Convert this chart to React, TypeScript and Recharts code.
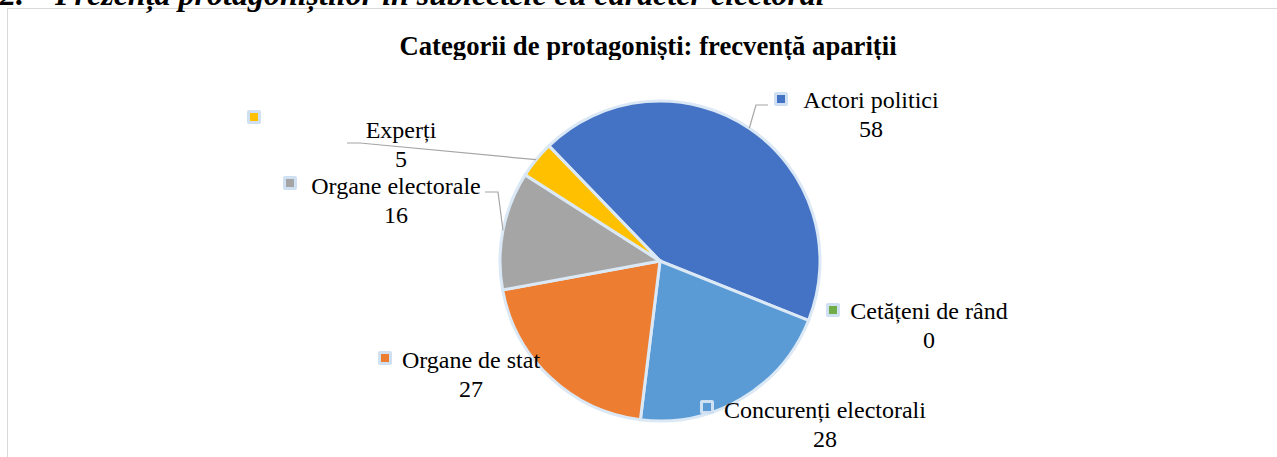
import { PieChart, Pie, Cell } from "recharts";

const categories = ["Actori politici", "Cetățeni de rând", "Concurenți electorali", "Organe de stat", "Organe electorale", "Experți"];
const values = [58, 0, 28, 27, 16, 5];
const colors = ["#4472C4", "#70AD47", "#5B9BD5", "#ED7D31", "#A5A5A5", "#FFC000"];

const chartTitle = "Categorii de protagoniști: frecvență apariții";
const pageHeading = "Prezența protagoniștilor în subiectele cu caracter electoral";

const W = 1277;
const H = 457;
const CX = 655;
const CY = 256;
const R = 160;
const FONT = "'Liberation Serif', 'Times New Roman', serif";

// label placement relative to pie centre (Excel puts these by hand)
const labelLayout: Record<string, { mx: number; my: number; tx: number; ty: number; leader?: [number, number][] }> = {
  "Actori politici": { mx: 121, my: -162, tx: 211, ty: -161, leader: [[96, -156], [108, -156]] },
  "Cetățeni de rând": { mx: 173, my: 49, tx: 269, ty: 50 },
  "Concurenți electorali": { mx: 47, my: 146, tx: 165, ty: 149 },
  "Organe de stat": { mx: -275, my: 97, tx: -189, ty: 99 },
  "Organe electorale": { mx: -370, my: -78, tx: -264, ty: -75, leader: [[-162, -69], [-175, -69]] },
  "Experți": { mx: -406, my: -144, tx: -259, ty: -131, leader: [[-300, -118], [-313, -118]] },
};

const data = categories.map((name, i) => ({ name, value: values[i], color: colors[i] }));

const RAD = Math.PI / 180;

function Marker({ x, y, color }: { x: number; y: number; color: string }) {
  return (
    <g>
      <rect x={x - 7} y={y - 7} width={14} height={14} rx={2} fill="#cfe0f2" />
      <rect x={x - 4} y={y - 4} width={8} height={8} fill={color} />
    </g>
  );
}

const renderLabel = (props: any) => {
  const { cx, cy, midAngle, outerRadius, name, value, index } = props;
  const lay = labelLayout[name];
  if (!lay) return null;
  const color = colors[index];
  let leader = null;
  if (lay.leader) {
    const sx = cx + outerRadius * Math.cos(-midAngle * RAD);
    const sy = cy + outerRadius * Math.sin(-midAngle * RAD);
    const pts = [[sx, sy], ...lay.leader.map(([dx, dy]) => [cx + dx, cy + dy])];
    leader = <polyline points={pts.map((p) => p.join(",")).join(" ")} fill="none" stroke="#a6a6a6" strokeWidth={1.2} />;
  }
  return (
    <g key={`lbl-${index}`}>
      {leader}
      <Marker x={cx + lay.mx} y={cy + lay.my} color={color} />
      <text x={cx + lay.tx} y={cy + lay.ty} textAnchor="middle" dominantBaseline="central" fontFamily={FONT} fontSize={24} fill="#000">
        {name}
      </text>
      <text x={cx + lay.tx} y={cy + lay.ty + 29} textAnchor="middle" dominantBaseline="central" fontFamily={FONT} fontSize={24} fill="#000">
        {value}
      </text>
    </g>
  );
};

export default function App() {
  return (
    <div style={{ position: "fixed", left: 0, top: 0, width: W, height: H, background: "#fff", overflow: "hidden" }}>
      <div style={{ position: "absolute", left: 7, top: 8, width: W, height: H, borderLeft: "1px solid #d9d9d9", borderTop: "1px solid #d9d9d9" }} />
      <svg width={W} height={60} style={{ position: "absolute", left: 0, top: 0 }}>
        <text x={0} y={5} fontFamily={FONT} fontSize={32} fontWeight="bold" fontStyle="italic" fill="#000">
          2.
        </text>
        <text x={55} y={5} fontFamily={FONT} fontSize={32} fontWeight="bold" fontStyle="italic" fill="#000">
          {pageHeading}
        </text>
        <text x={648} y={46} textAnchor="middle" dominantBaseline="central" fontFamily={FONT} fontSize={26.7} fontWeight="bold" fill="#000">
          {chartTitle}
        </text>
      </svg>
      <div style={{ position: "absolute", left: 0, top: 0 }}>
        <PieChart width={W} height={H}>
          <Pie
            data={data}
            dataKey="value"
            nameKey="name"
            cx={CX}
            cy={CY}
            outerRadius={R}
            startAngle={134}
            endAngle={-226}
            stroke="#dbe8f5"
            strokeWidth={3}
            label={renderLabel}
            labelLine={false}
            isAnimationActive={false}
          >
            {data.map((d, i) => (
              <Cell key={`cell-${i}`} fill={d.color} />
            ))}
          </Pie>
        </PieChart>
      </div>
    </div>
  );
}
